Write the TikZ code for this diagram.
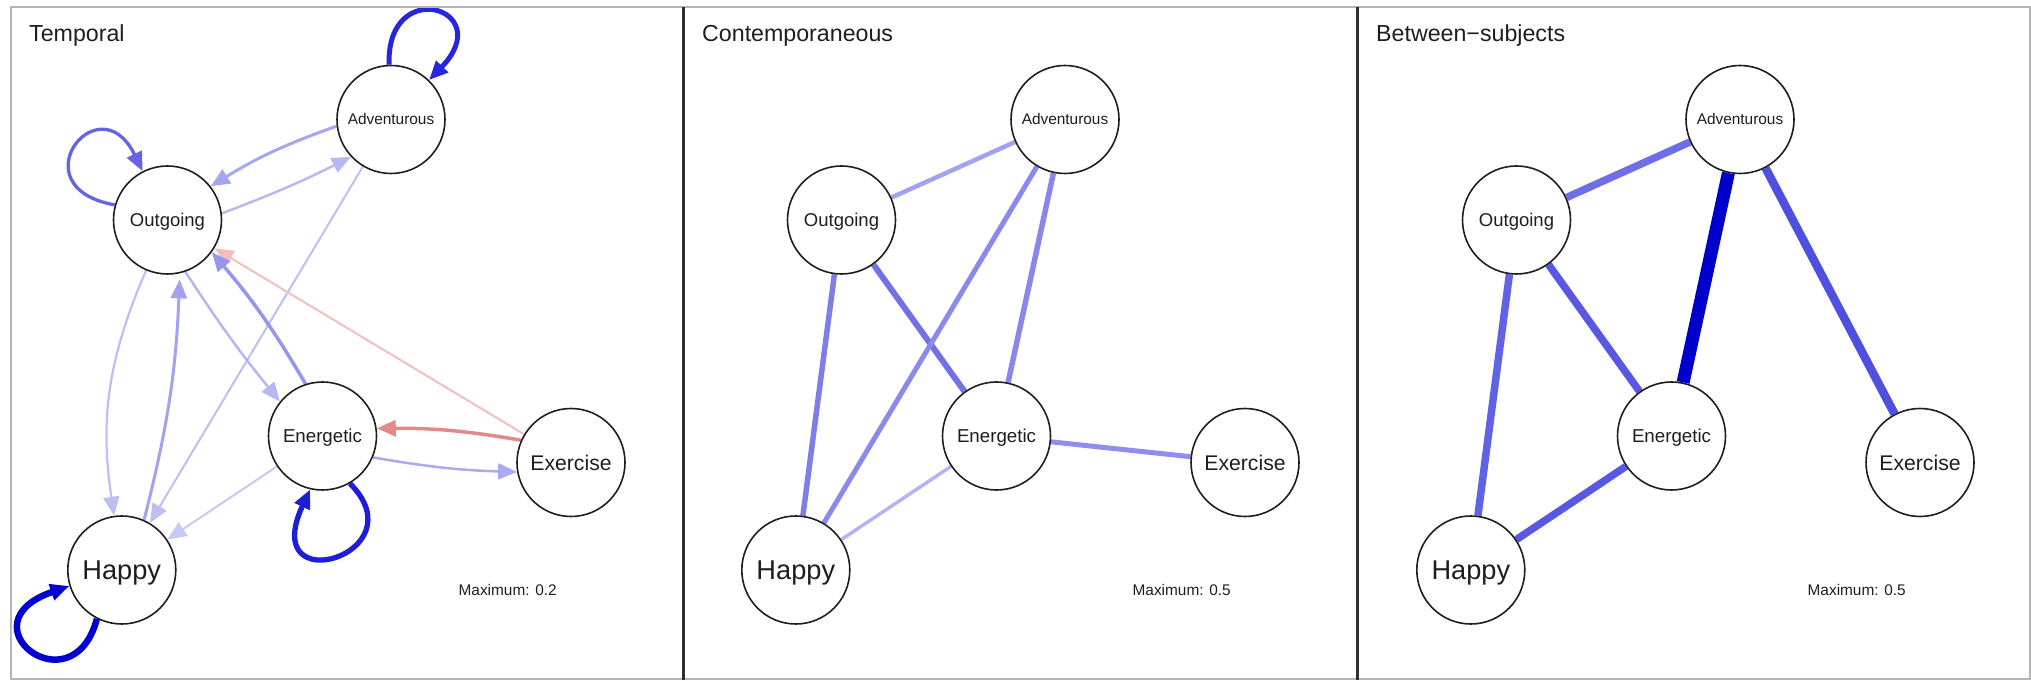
\documentclass[tikz,border=0pt]{standalone}
\usepackage{fontspec}
\setmainfont{Liberation Sans}
\usetikzlibrary{arrows.meta,backgrounds}

% frame and text colours
\definecolor{framegray}{HTML}{B4B4B4}
\definecolor{divider}{HTML}{2E2E2E}
\definecolor{ink}{HTML}{1E1E1E}
% temporal network (directed)
\definecolor{tAdvLoop}{HTML}{2626DC}
\definecolor{tOutLoop}{HTML}{6464E4}
\definecolor{tHapLoop}{HTML}{0000D2}
\definecolor{tEneLoop}{HTML}{1E1ED8}
\definecolor{tAdvOut}{HTML}{A6A6F0}
\definecolor{tOutAdv}{HTML}{B8B8F3}
\definecolor{tAdvHap}{HTML}{BEBEF4}
\definecolor{tExeOut}{HTML}{F2BEBE}
\definecolor{tEneOut}{HTML}{9696EE}
\definecolor{tOutEne}{HTML}{B6B6F2}
\definecolor{tOutHap}{HTML}{BEBEF4}
\definecolor{tHapOut}{HTML}{A2A2EE}
\definecolor{tEneHap}{HTML}{C8C8F6}
\definecolor{tExeEne}{HTML}{E28A8A}
\definecolor{tEneExe}{HTML}{AAAAF0}
% contemporaneous network
\definecolor{cOutAdv}{HTML}{A2A2F2}
\definecolor{cOutEne}{HTML}{7272E6}
\definecolor{cAdvHap}{HTML}{8A8AEC}
\definecolor{cAdvEne}{HTML}{8888EC}
\definecolor{cOutHap}{HTML}{7E7EE8}
\definecolor{cEneHap}{HTML}{B4B4F4}
\definecolor{cEneExe}{HTML}{8E8EEE}
% between-subjects network
\definecolor{bOutAdv}{HTML}{6E6EE8}
\definecolor{bAdvEne}{HTML}{0000CC}
\definecolor{bAdvExe}{HTML}{5050E0}
\definecolor{bOutEne}{HTML}{5858E2}
\definecolor{bOutHap}{HTML}{6262E6}
\definecolor{bEneHap}{HTML}{5858E2}

\tikzset{
  vnode/.style={circle, draw=ink, line width=1.6pt, fill=white,
    minimum size=108pt, inner sep=0pt, text depth=0pt, text=ink},
  lbl/.style 2 args={font=\fontsize{#1pt}{#1pt}\selectfont, text height=#2pt},
  paneltitle/.style={anchor=base west, inner sep=0pt, text=ink,
    font=\fontsize{23.2pt}{24pt}\selectfont},
  maxlbl/.style={inner sep=0pt, text=ink, font=\fontsize{15.4pt}{16pt}\selectfont},
  directed/.style={-{Triangle[length=19pt,width=16pt]}},
  ew/.style={line width=#1pt}
}

\begin{document}
\begin{tikzpicture}[x=1pt,y=1pt]
\useasboundingbox (0,0) rectangle (2031,680);

% panel frame and dividers
\draw[framegray, line width=1.5pt] (11,1) rectangle (2030,673);
\draw[divider, line width=3pt] (683.5,0) -- (683.5,673);
\draw[divider, line width=3pt] (1357.7,0) -- (1357.7,673);

% panel titles
\node[paneltitle] (title1) at (29,638.3) {Temporal};
\node[paneltitle] (title2) at (702,638.3) {Contemporaneous};
\node[paneltitle] (title3) at (1376,638.3) {Between−subjects};

% the same five variables in every panel
\foreach \p/\dx in {1/0, 2/674, 3/1349}{
  \node[vnode, lbl={15.4}{11.0}] (adv\p) at (391+\dx, 560.5) {Adventurous};
  \node[vnode, lbl={18.5}{13.2}] (out\p) at (167.5+\dx, 460) {Outgoing};
  \node[vnode, lbl={18.7}{13.4}] (ene\p) at (322.5+\dx, 244) {Energetic};
  \node[vnode, lbl={21.2}{15.2}] (exe\p) at (571+\dx, 217.5) {Exercise};
  \node[vnode, lbl={27.2}{19.5}] (hap\p) at (121.8+\dx, 110) {Happy};
}

% edge-weight scale notes
\node[maxlbl] (max1) at (507.7,90) {Maximum: 0.2};
\node[maxlbl] (max2) at (1181.7,90) {Maximum: 0.5};
\node[maxlbl] (max3) at (1856.7,90) {Maximum: 0.5};

\begin{pgfonlayer}{background}
% ---- temporal: self-loops
\draw[directed, tAdvLoop, ew=5] (adv1.92) to[out=92, in=46, out distance=90pt, in distance=100pt] (adv1.46);
\draw[directed, tOutLoop, ew=3.3] (out1.164) to[out=170, in=116, out distance=100pt, in distance=100pt] (out1.117);
\draw[directed, tHapLoop, ew=6.5] (hap1.243) to[out=255, in=199, out distance=95pt, in distance=115pt] (hap1.197);
\draw[directed, tEneLoop, ew=5.3] (ene1.-60) to[out=-45, in=245, out distance=100pt, in distance=125pt] (ene1.257);
% ---- temporal: lagged effects
\draw[directed, tAdvOut, ew=3] (adv1.187) to[bend right=6] (out1.38);
\draw[directed, tOutAdv, ew=2.5] (out1.7.5) to[bend right=3] (adv1.223);
\draw[directed, tAdvHap, ew=2] (adv1) -- (hap1);
\draw[directed, tExeOut, ew=2] (exe1) -- (out1);
\draw[directed, tEneOut, ew=3.5] (ene1.108.5) to[bend right=5] (out1.-36.8);
\draw[directed, tOutEne, ew=2.5] (out1.-71.3) to[bend right=3] (ene1.141.8);
\draw[directed, tOutHap, ew=2.2] (out1.-113) to[bend right=16] (hap1.98.4);
\draw[directed, tHapOut, ew=3, shorten >=6pt] (hap1.66.5) to[bend right=6] (out1.-77.2);
\draw[directed, tEneHap, ew=2] (ene1) -- (hap1);
\draw[directed, tExeEne, ew=3.5] (exe1.156.7) to[bend right=5] (ene1.8.9);
\draw[directed, tEneExe, ew=2.5] (ene1.-23.9) to[bend right=4] (exe1.190.5);

% ---- contemporaneous
\draw[cOutAdv, ew=4.5] (out2) -- (adv2);
\draw[cOutEne, ew=6] (out2) -- (ene2);
\draw[cAdvHap, ew=5] (adv2) -- (hap2);
\draw[cAdvEne, ew=5.5] (adv2) -- (ene2);
\draw[cOutHap, ew=5.5] (out2) -- (hap2);
\draw[cEneHap, ew=3.5] (ene2) -- (hap2);
\draw[cEneExe, ew=5] (ene2) -- (exe2);

% ---- between-subjects
\draw[bOutAdv, ew=7.5] (out3) -- (adv3);
\draw[bAdvEne, ew=13] (adv3) -- (ene3);
\draw[bAdvExe, ew=8.5] (adv3) -- (exe3);
\draw[bOutEne, ew=7.5] (out3) -- (ene3);
\draw[bOutHap, ew=7.5] (out3) -- (hap3);
\draw[bEneHap, ew=7.5] (ene3) -- (hap3);
\end{pgfonlayer}
\end{tikzpicture}
\end{document}
